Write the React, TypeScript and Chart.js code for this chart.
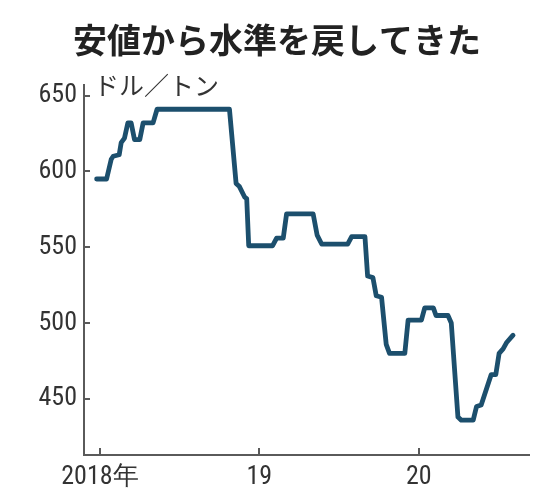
import React, { useEffect, useRef } from "react";
import { Chart, registerables } from "chart.js";

Chart.register(...registerables);

const title = "安値から水準を戻してきた";
const unitLabel = "ドル／トン";

// months since Jan 2018
const months = [
  -0.25, 0.5, 0.85, 1.0, 1.45, 1.6, 1.85, 2.1, 2.35, 2.6, 3.0, 3.25, 4.0, 4.3,
  9.75, 10.25, 10.5, 10.9, 11.05, 11.2, 13.0, 13.3, 13.8, 14.05, 16.05, 16.35,
  16.7, 18.65, 18.95, 19.95, 20.15, 20.55, 20.8, 21.2, 21.55, 21.8, 22.95, 23.2,
  24.2, 24.45, 25.1, 25.3, 26.2, 26.45, 26.95, 27.2, 28.1, 28.35, 28.7, 29.45,
  29.8, 30.05, 30.35, 30.6, 31.1,
];
// USD per ton
const prices = [
  595, 595, 608, 610, 611, 619, 622, 632, 632, 621, 621, 632, 632, 641,
  641, 592, 590, 583, 582, 551, 551, 556, 556, 572, 572, 558,
  552, 552, 557, 557, 531, 530, 518, 517, 486, 480, 480, 502,
  502, 510, 510, 505, 505, 500, 438, 436, 436, 445, 446, 466,
  466, 480, 483, 487, 492,
];

const xTickValues = [0, 12, 24];
const xTickLabels = ["2018年", "19", "20"];
const yTickValues = [450, 500, 550, 600, 650];

const AXIS_COLOR = "#5a5a5a";
const TEXT_COLOR = "#333333";
const LINE_COLOR = "#1c4f6d";
const TICK_FAMILY = "'Roboto Condensed', 'Liberation Sans Narrow', 'DejaVu Sans Condensed', 'DejaVu Sans', sans-serif";

export default function App() {
  const ref = useRef<HTMLCanvasElement | null>(null);

  useEffect(() => {
    const canvas = ref.current;
    if (!canvas) return;

    const decor = {
      id: "decor",
      afterDraw(chart: any) {
        const ctx = chart.ctx;
        const area = chart.chartArea;
        const xs = chart.scales.x;
        const ys = chart.scales.y;
        ctx.save();
        // title
        ctx.fillStyle = "#222222";
        ctx.font = "bold 34px 'Noto Sans CJK JP', sans-serif";
        ctx.textAlign = "center";
        ctx.textBaseline = "middle";
        ctx.fillText(title, 277, 40);
        // unit
        ctx.fillStyle = TEXT_COLOR;
        ctx.font = "25px 'Noto Sans CJK JP', sans-serif";
        ctx.textAlign = "left";
        ctx.fillText(unitLabel, 94, 85);
        // inward tick marks
        ctx.strokeStyle = AXIS_COLOR;
        ctx.lineWidth = 2;
        ctx.beginPath();
        for (const t of ys.ticks) {
          const py = Math.round(ys.getPixelForValue(t.value));
          ctx.moveTo(area.left, py);
          ctx.lineTo(area.left + 6, py);
        }
        for (const t of xs.ticks) {
          const px = Math.round(xs.getPixelForValue(t.value));
          ctx.moveTo(px, area.bottom);
          ctx.lineTo(px, area.bottom - 7);
        }
        ctx.stroke();
        ctx.restore();
      },
    };

    const chart = new Chart(canvas, {
      type: "line",
      data: {
        datasets: [
          {
            data: months.map((m, i) => ({ x: m, y: prices[i] })),
            borderColor: LINE_COLOR,
            borderWidth: 4.8,
            pointRadius: 0,
            tension: 0,
            fill: false,
            borderJoinStyle: "round",
            borderCapStyle: "round",
          },
        ],
      },
      options: {
        responsive: false,
        animation: false,
        layout: { padding: { left: 0, right: 8, top: 85, bottom: 0 } },
        plugins: {
          legend: { display: false },
          title: { display: false },
          tooltip: { enabled: false },
        },
        scales: {
          x: {
            type: "linear",
            min: -1.2,
            max: 32.3,
            grid: { display: false, drawTicks: false },
            border: { display: true, color: AXIS_COLOR, width: 2 },
            afterBuildTicks: (s: any) => {
              s.ticks = xTickValues.map((v) => ({ value: v }));
            },
            afterFit: (s: any) => {
              s.height = 37;
            },
            ticks: {
              padding: 7,
              color: TEXT_COLOR,
              font: { family: TICK_FAMILY, size: 26 },
              maxRotation: 0,
              autoSkip: false,
              callback: (v: any) => {
                const i = xTickValues.indexOf(Number(v));
                return i >= 0 ? xTickLabels[i] : "";
              },
            },
          },
          y: {
            min: 413,
            max: 657,
            grid: { display: false, drawTicks: false },
            border: { display: true, color: AXIS_COLOR, width: 2 },
            afterBuildTicks: (s: any) => {
              s.ticks = yTickValues.map((v) => ({ value: v }));
            },
            afterFit: (s: any) => {
              s.width = 84;
            },
            ticks: {
              padding: 7,
              color: TEXT_COLOR,
              font: { family: TICK_FAMILY, size: 26 },
              autoSkip: false,
            },
          },
        },
      },
      plugins: [decor],
    });

    return () => chart.destroy();
  }, []);

  return (
    <div style={{ position: "absolute", left: 0, top: 0, width: 537, height: 492, background: "#fff" }}>
      <canvas ref={ref} width={537} height={492} style={{ display: "block" }} />
    </div>
  );
}
